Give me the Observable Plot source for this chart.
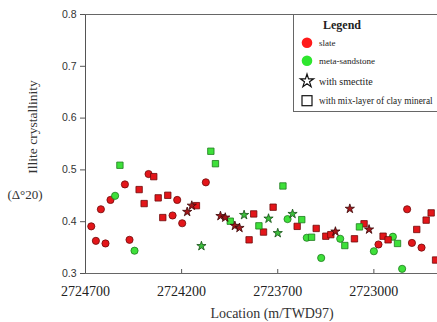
<!DOCTYPE html>
<html><head><meta charset="utf-8">
<script src="https://cdn.jsdelivr.net/npm/d3@7"></script>
<script src="https://cdn.jsdelivr.net/npm/@observablehq/plot@0.6"></script>
<style>body{margin:0;background:#fff}#c{position:relative;width:437px;height:322px;overflow:hidden}</style>
</head><body><div id="c"></div>
<script>
// slate, plain (circle)
const slateCircleX = [2724670,2724646,2724620,2724596,2724570,2724495,2724471,2724372,2724247,2724223,2724197,2724074,2723176,2723027,2723002,2722952];
const slateCircleY = [0.391,0.363,0.424,0.358,0.442,0.472,0.365,0.492,0.412,0.442,0.397,0.476,0.356,0.424,0.359,0.350];
// slate, mix-layer (square)
const slateSquareX = [2724345,2724421,2724395,2724322,2724298,2724272,2724123,2723849,2723825,2723774,2723724,2723599,2723500,2723450,2723424,2723301,2723251,2723152,2723126,2722977,2722928,2722902,2722879];
const slateSquareY = [0.487,0.462,0.435,0.446,0.408,0.451,0.431,0.365,0.415,0.380,0.428,0.391,0.387,0.372,0.375,0.367,0.396,0.372,0.365,0.385,0.403,0.417,0.326];
// slate, smectite (star)
const slateStarX = [2724171,2724147,2723998,2723973,2723923,2723899,2723400,2723325,2723225];
const slateStarY = [0.419,0.431,0.411,0.408,0.392,0.388,0.381,0.425,0.385];
// meta-sandstone, plain
const sandCircleX = [2724546,2724445,2723649,2723549,2723474,2723375,2723200,2723101,2723053];
const sandCircleY = [0.450,0.344,0.405,0.369,0.330,0.367,0.343,0.371,0.309];
// meta-sandstone, mix-layer
const sandSquareX = [2724521,2724048,2724024,2723947,2723798,2723673,2723575,2723524,2723351,2723275,2723077];
const sandSquareY = [0.509,0.536,0.512,0.401,0.392,0.469,0.404,0.370,0.354,0.390,0.358];
// meta-sandstone, smectite
const sandStarX = [2724097,2723875,2723748,2723700,2723623];
const sandStarY = [0.353,0.413,0.406,0.378,0.415];

const xDomain = [2724700, 2722869];
const yDomain = [0.3, 0.8];
const xTicks = [2724700, 2724200, 2723700, 2723200];
const xTickLabels = ["2724700", "2724200", "2723700", "2723000"];
const yTicks = [0.3, 0.4, 0.5, 0.6, 0.7, 0.8];
const legendItems = ["slate", "meta-sandstone", "with smectite", "with mix-layer of clay mineral"];

function rows(xs, ys, rock, sym) { return xs.map((x, i) => ({x, y: ys[i], rock, sym})); }
const plain = [
  ...rows(slateCircleX, slateCircleY, "slate", "circle"),
  ...rows(sandCircleX, sandCircleY, "sand", "circle"),
  ...rows(slateSquareX, slateSquareY, "slate", "square"),
  ...rows(sandSquareX, sandSquareY, "sand", "square"),
];
const stars = [
  ...rows(slateStarX, slateStarY, "slateStar", "star"),
  ...rows(sandStarX, sandStarY, "sandStar", "star"),
];
const fills = {slate: "#e3161a", sand: "#3ee03a", slateStar: "#a3171b", sandStar: "#3bbf3b"};
const strokes = {slate: "#6e0a0a", sand: "#1d7a1d", slateStar: "#3a0505", sandStar: "#144d14"};

const plot = Plot.plot({
  width: 437, height: 322,
  marginLeft: 85, marginTop: 14, marginBottom: 49, marginRight: 0,
  x: {domain: xDomain, label: null},
  y: {domain: yDomain, label: null},
  symbol: {type: "identity"},
  style: {background: "#fff", overflow: "visible"},
  marks: [
    Plot.ruleX([xDomain[0]], {stroke: "#555", strokeWidth: 1}),
    Plot.ruleY(yDomain, {stroke: "#666", strokeWidth: 1}),
    Plot.axisY({ticks: yTicks, tickFormat: d3.format(".1f"), tickSize: 5, tickPadding: 4, fontSize: 10.5,
      fontFamily: "Liberation Sans, Arial, sans-serif", fill: "#333", stroke: "#555"}),
    Plot.axisX({ticks: xTicks, tickFormat: (d) => xTickLabels[xTicks.indexOf(d)], tickSize: -4, tickPadding: 17, fontSize: 14,
      fontFamily: "Liberation Serif, Times New Roman, serif", fill: "#222", stroke: "#555"}),
    Plot.dot(plain, {x: "x", y: "y", symbol: "sym", r: 3.6,
      fill: (d) => fills[d.rock], stroke: (d) => strokes[d.rock], strokeWidth: 0.8, clip: true}),
    Plot.dot(stars, {x: "x", y: "y", symbol: "sym", r: 2.9,
      fill: (d) => fills[d.rock], stroke: (d) => strokes[d.rock], strokeWidth: 0.8, clip: true}),
  ],
});
const svg = d3.select(plot);
const serif = "Liberation Serif, Times New Roman, serif";
svg.append("text").attr("x", 272).attr("y", 318).attr("text-anchor", "middle")
  .attr("font-family", serif).attr("font-size", 14).attr("fill", "#333").text("Location (m/TWD97)");
svg.append("text").attr("transform", "translate(37,127) rotate(-90)").attr("text-anchor", "middle")
  .attr("font-family", serif).attr("font-size", 13.5).attr("fill", "#333").text("Illite crystallinity");
svg.append("text").attr("x", 25).attr("y", 199).attr("text-anchor", "middle")
  .attr("font-family", serif).attr("font-size", 13).attr("fill", "#333").text("(Δ°20)");

// legend
const lg = svg.append("g").attr("font-family", serif).attr("fill", "#222").attr("text-anchor", "start");
lg.append("rect").attr("x", 293.5).attr("y", 14.5).attr("width", 160).attr("height", 97)
  .attr("fill", "#fff").attr("stroke", "#666").attr("stroke-width", 1);
lg.append("text").attr("x", 342).attr("y", 28.5).attr("text-anchor", "middle").attr("font-size", 12).attr("font-weight", "bold").text("Legend");
const lx = 307, ly = [42.7, 60.7, 81, 100.7];
lg.append("circle").attr("cx", lx).attr("cy", ly[0]).attr("r", 5.3).attr("fill", "#ff1a1a");
lg.append("circle").attr("cx", lx).attr("cy", ly[1]).attr("r", 5.3).attr("fill", "#2ee62e");
lg.append("path").attr("transform", `translate(${lx},${ly[2]})`).attr("d", d3.symbol(d3.symbolStar, 55)())
  .attr("fill", "none").attr("stroke", "#111").attr("stroke-width", 1.2);
lg.append("rect").attr("x", lx - 5).attr("y", ly[3] - 5).attr("width", 10).attr("height", 10)
  .attr("fill", "none").attr("stroke", "#111").attr("stroke-width", 1.2);
legendItems.forEach((t, i) => lg.append("text").attr("x", 319).attr("y", ly[i] + 3.5)
  .attr("text-anchor", "start").attr("font-size", i < 2 ? 9 : (i === 3 ? 9.3 : 10)).text(t));

document.getElementById("c").appendChild(plot);
</script></body></html>
